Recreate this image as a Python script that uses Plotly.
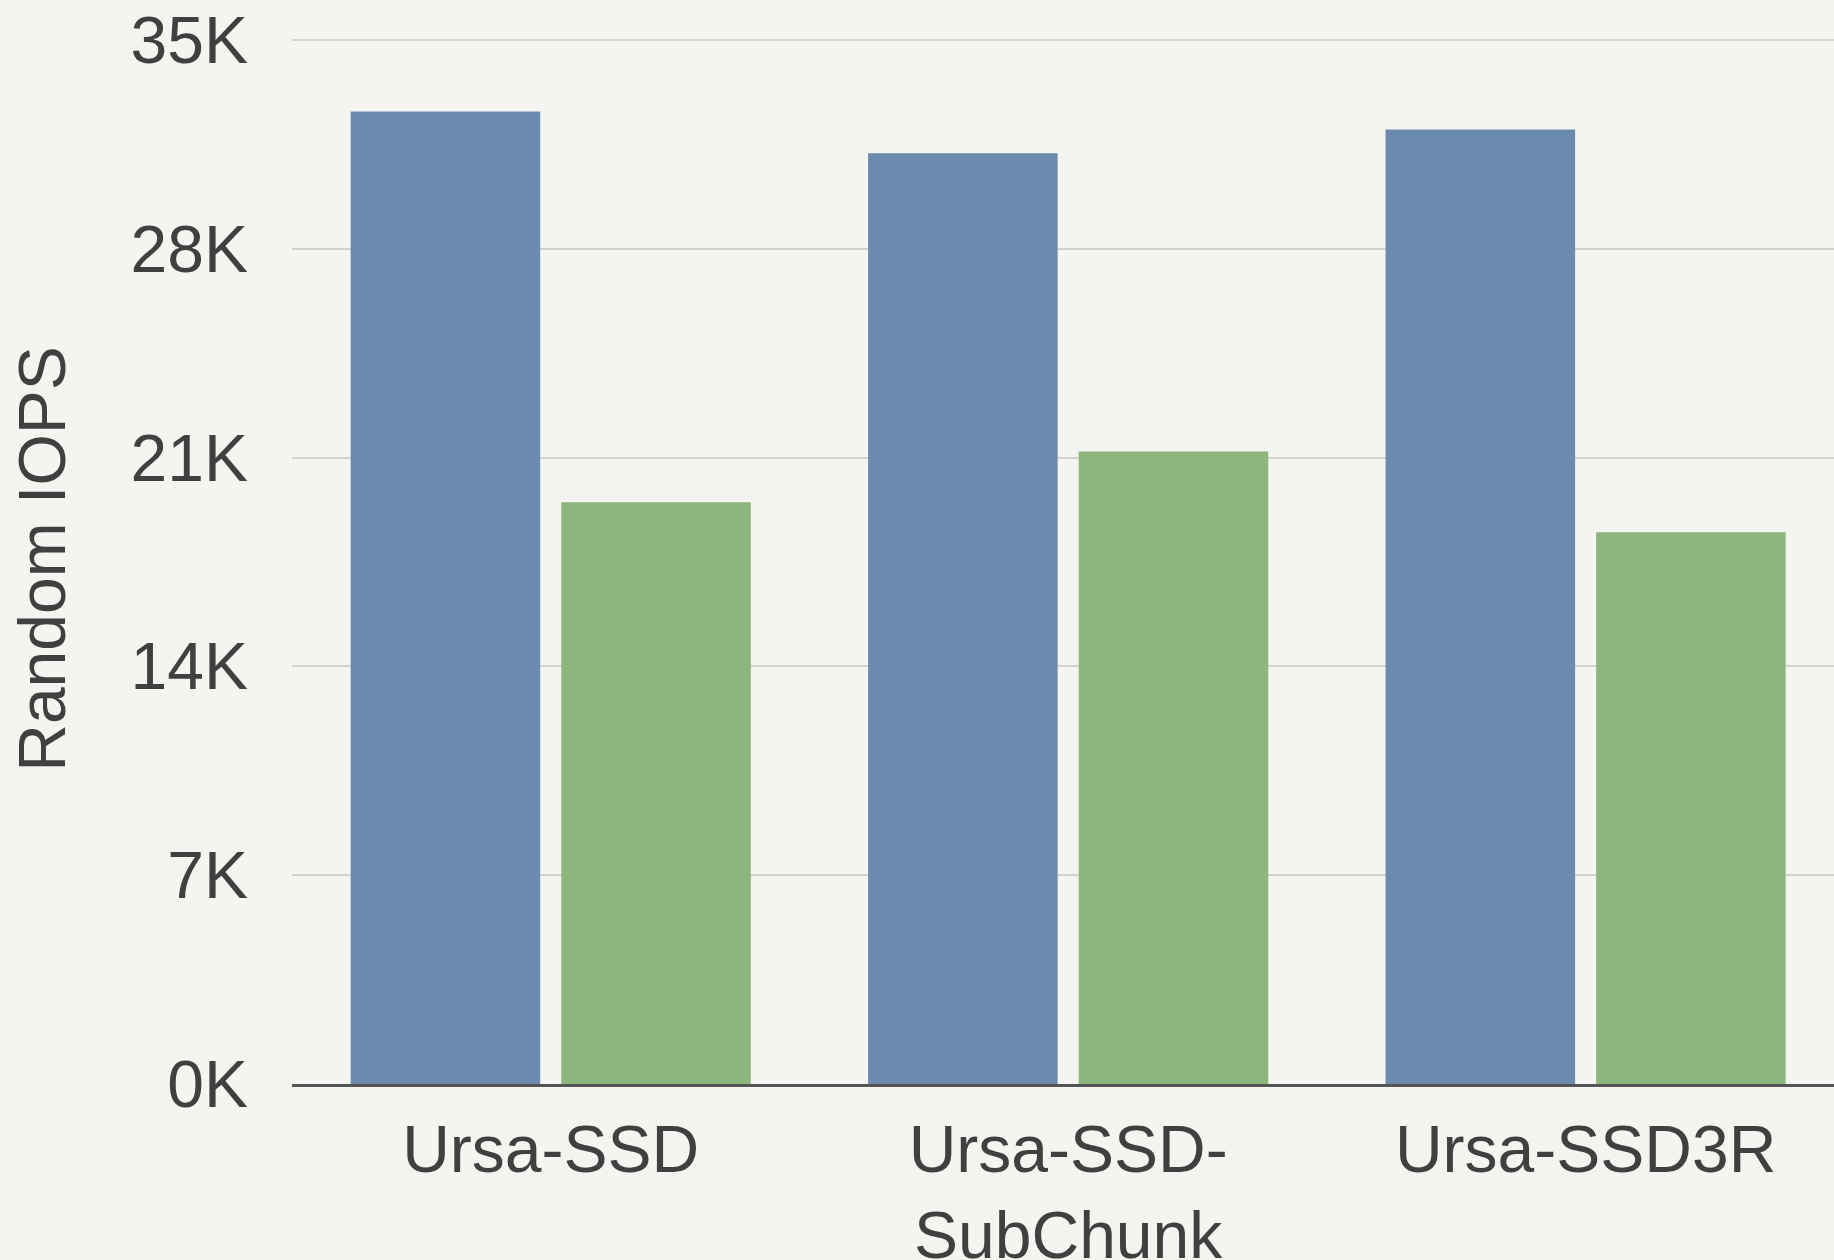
import plotly.graph_objects as go

categories = ["Ursa-SSD", "Ursa-SSD-<br>SubChunk", "Ursa-SSD3R"]
series_a = [32600, 31200, 32000]
series_b = [19500, 21200, 18500]
tick_vals = [0, 7000, 14000, 21000, 28000, 35000]
tick_text = ["0K", "7K", "14K", "21K", "28K", "35K"]

BG = "#f4f5f0"
TXT = "#404040"
FONT = "Liberation Sans, Arial, sans-serif"

fig = go.Figure()
fig.add_trace(go.Bar(x=categories, y=series_a, marker=dict(color="#6c89ae", line=dict(width=0)), showlegend=False))
fig.add_trace(go.Bar(x=categories, y=series_b, marker=dict(color="#8db67c", line=dict(width=0)), showlegend=False))

fig.update_layout(
    width=1834, height=1260,
    paper_bgcolor=BG, plot_bgcolor=BG,
    margin=dict(l=292, r=0, t=34, b=176),
    barmode="group", bargap=0.186, bargroupgap=0.1,
    font=dict(family=FONT, color=TXT, size=66),
)
fig.update_xaxes(
    range=[-0.5, 2.48], showgrid=False, showline=True, linecolor="#555555", linewidth=3,
    ticks="", tickfont=dict(size=66, color=TXT), ticklabelstandoff=6, automargin=False,
)
fig.update_yaxes(
    range=[0, 35200], tickvals=tick_vals, ticktext=tick_text,
    showgrid=True, gridcolor="#d2d2d2", gridwidth=2, zeroline=False, showline=False,
    ticks="", tickfont=dict(size=66, color=TXT), ticklabelstandoff=43, automargin=False,
    title=dict(text="Random IOPS", font=dict(size=66, color=TXT), standoff=43),
)

fig.write_html(
    "out.html",
    config={"displayModeBar": False},
    post_script="document.body.style.margin='0';document.body.style.padding='0';document.body.style.background='%s';" % BG,
)
